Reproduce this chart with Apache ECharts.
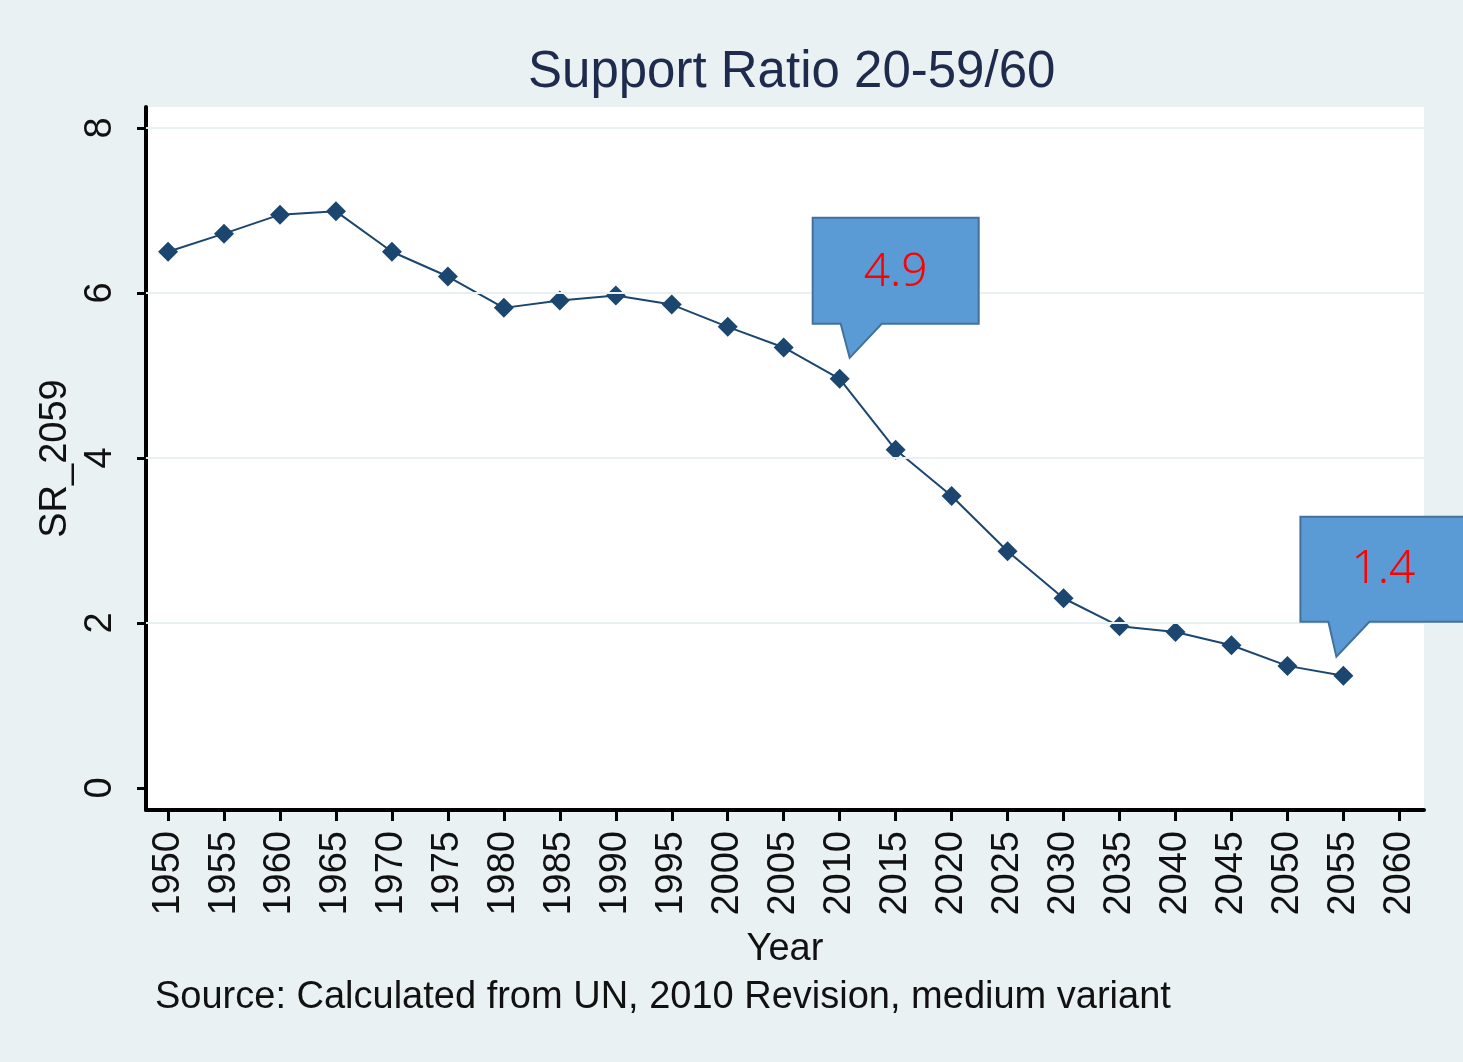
<!DOCTYPE html>
<html>
<head>
<meta charset="utf-8">
<script src="https://cdn.jsdelivr.net/npm/echarts@6/dist/echarts.min.js"></script>
<style>
html,body{margin:0;padding:0;background:#eaf1f3;}
#main{width:1463px;height:1062px;}
</style>
</head>
<body>
<div id="main"></div>
<script>
var years=[1950,1955,1960,1965,1970,1975,1980,1985,1990,1995,2000,2005,2010,2015,2020,2025,2030,2035,2040,2045,2050,2055];
var ratio=[6.50,6.72,6.95,6.99,6.50,6.20,5.82,5.91,5.97,5.86,5.59,5.34,4.96,4.10,3.54,2.87,2.30,1.96,1.89,1.73,1.48,1.36];
var xTicks=[1950,1955,1960,1965,1970,1975,1980,1985,1990,1995,2000,2005,2010,2015,2020,2025,2030,2035,2040,2045,2050,2055,2060];
var yTicks=[0,2,4,6,8];
var gridVals=[2,4,6,8];
var callouts=[{year:2010,text:'4.9'},{year:2055,text:'1.4'}];

var myChart=echarts.init(document.getElementById('main'));

var option={
  backgroundColor:'#eaf1f3',
  animation:false,
  title:{
    text:'Support Ratio 20-59/60',
    left:523,
    top:42,
    textStyle:{fontFamily:'Liberation Sans',fontSize:51,fontWeight:'normal',color:'#1e2b4d'}
  },
  grid:{left:146,right:39,top:107,bottom:252,show:true,backgroundColor:'#ffffff',borderWidth:0},
  xAxis:{
    type:'value',
    min:1948.03,
    max:2062.2,
    name:'Year',
    nameLocation:'middle',
    nameGap:121,
    nameTextStyle:{fontFamily:'Liberation Sans',fontSize:38,color:'#111'},
    axisLine:{show:true,onZero:false,lineStyle:{color:'#000',width:4}},
    axisTick:{show:true,length:11,lineStyle:{color:'#000',width:3},customValues:xTicks},
    axisLabel:{rotate:90,margin:21,fontFamily:'Liberation Sans',fontSize:38,color:'#111',customValues:xTicks,
      formatter:function(v){return String(v);}},
    splitLine:{show:false}
  },
  yAxis:{
    type:'value',
    min:-0.267,
    max:8.255,
    name:'SR_2059',
    nameLocation:'middle',
    nameRotate:90,
    nameGap:70,
    nameTextStyle:{fontFamily:'Liberation Sans',fontSize:38,color:'#111'},
    axisLine:{show:true,onZero:false,lineStyle:{color:'#000',width:4}},
    axisTick:{show:true,length:9,lineStyle:{color:'#000',width:3},customValues:yTicks},
    axisLabel:{rotate:90,margin:26,fontFamily:'Liberation Sans',fontSize:38,color:'#111',customValues:yTicks},
    splitLine:{show:false}
  },
  series:[{
    type:'line',
    data:years.map(function(y,i){return [y,ratio[i]];}),
    symbol:'diamond',
    symbolSize:20,
    itemStyle:{color:'#1b4670'},
    lineStyle:{color:'#1b4670',width:2},
    markLine:{
      silent:true,
      symbol:'none',
      label:{show:false},
      lineStyle:{color:'#e9f0f2',width:2,type:'solid'},
      data:gridVals.map(function(v){return {yAxis:v};})
    },
    z:3
  }]
};
myChart.setOption(option);

// callouts anchored to the data points
var graphics=[];
callouts.forEach(function(c){
  var idx=years.indexOf(c.year);
  var p=myChart.convertToPixel({seriesIndex:0},[c.year,ratio[idx]]);
  var x0=p[0]-27,x1=p[0]+139,y0=p[1]-161,y1=p[1]-55;
  if(c.year===2055){x0=p[0]-43;x1=p[0]+140;y0=p[1]-159;y1=p[1]-54;}
  var tip=c.year===2055?[p[0]-7,p[1]-19]:[p[0]+10,p[1]-21];
  var bl=c.year===2055?p[0]-15:p[0]+1;
  graphics.push({
    type:'polygon',
    shape:{points:[[x0,y0],[x1,y0],[x1,y1],[bl+41,y1],tip,[bl,y1],[x0,y1]]},
    style:{fill:'#5b9bd5',stroke:'#41719c',lineWidth:2},
    z:10
  });
  graphics.push({
    type:'text',
    x:(c.year===2055?p[0]+40:p[0]+56),
    y:p[1]-106,
    style:{text:c.text,fill:'#ff0000',font:'300 46px "Noto Sans"',textAlign:'center',textVerticalAlign:'middle'},
    z:11
  });
});
graphics.push({
  type:'text',
  left:155,
  top:979,
  style:{text:'Source: Calculated from UN, 2010 Revision, medium variant',fill:'#111',font:'38px "Liberation Sans"'}
});
myChart.setOption({graphic:graphics});
</script>
</body>
</html>
